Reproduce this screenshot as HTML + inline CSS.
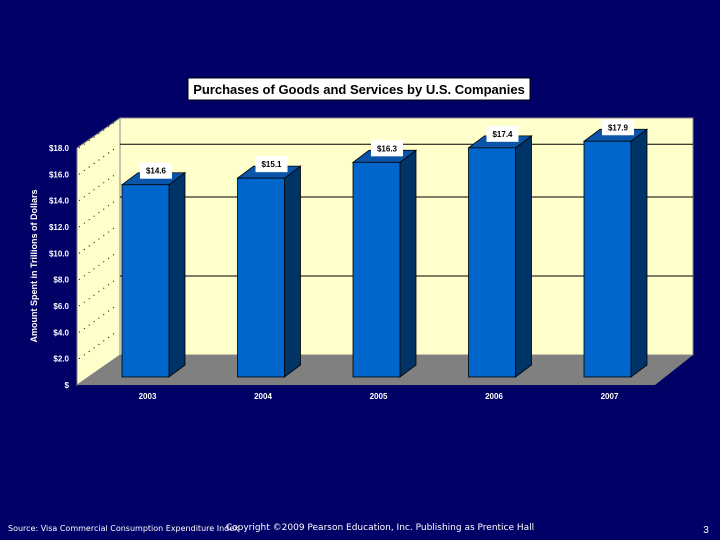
<!DOCTYPE html>
<html><head><meta charset="utf-8"><style>
body{margin:0;background:#000066;width:720px;height:540px;overflow:hidden;font-family:"Liberation Sans",sans-serif}
svg{position:absolute;left:0;top:0}
</style></head><body>
<svg width="720" height="540">
<g id="g"></g>
</svg>
<script>
const years=["2003","2004","2005","2006","2007"];
const values=[14.6,15.1,16.3,17.4,17.9];
const valueLabels=["$14.6","$15.1","$16.3","$17.4","$17.9"];
const ticks=[0,2,4,6,8,10,12,14,16,18];
const tickLabels=["$","$2.0","$4.0","$6.0","$8.0","$10.0","$12.0","$14.0","$16.0","$18.0"];
const gridVals=[6,12,16];
const NS="http://www.w3.org/2000/svg";
const g=document.getElementById('g');
function el(t,a,txt){const e=document.createElementNS(NS,t);for(const k in a)e.setAttribute(k,a[k]);if(txt!==undefined)e.textContent=txt;g.appendChild(e);return e;}
const unit=13.17;
const yFront=v=>385-v*unit, yBack=v=>355-v*unit, yBar=v=>377-v*unit;
const xBar=i=>122+i*115.5;
// back wall
let e=el('polygon',{points:"120,118 693,118 693,355 120,355",fill:"#FFFFCC",stroke:"#888","stroke-width":1});

e=el('polygon',{points:"77,148 120,118 120,355 77,385",fill:"#FFFFCC",stroke:"#888","stroke-width":1});

e=el('polygon',{points:"120,355 693,355 655,385 77,385",fill:"#808080"});

gridVals.forEach(v=>{const l=el('line',{x1:120,x2:693,y1:yBack(v),y2:yBack(v),stroke:"#000","stroke-width":1});
});
ticks.forEach((v,i)=>{
 if(v>0){const l=el('line',{x1:79,y1:yFront(v),x2:118,y2:yFront(v)-28,stroke:"#000","stroke-width":1,"stroke-dasharray":"1,5"});
 }
 const t=el('text',{x:69,y:yFront(v)+3,"text-anchor":"end",fill:"#fff","font-size":"8","font-weight":"bold"},tickLabels[i]);
 
});
values.forEach((v,i)=>{
 const x=xBar(i),w=47,top=yBar(v),dx=16,dy=12;
 let p=el('polygon',{points:`${x+w},${top} ${x+w+dx},${top-dy} ${x+w+dx},${377-dy} ${x+w},377`,fill:"#003366",stroke:"#000","stroke-width":0.8});
 
 p=el('polygon',{points:`${x},${top} ${x+dx},${top-dy} ${x+w+dx},${top-dy} ${x+w},${top}`,fill:"#0a55aa",stroke:"#000","stroke-width":0.8});
 
 p=el('rect',{x:x,y:top,width:w,height:377-top,fill:"#0066CC",stroke:"#000","stroke-width":0.8});
 
 const bx=x+18,by=top-22;
 p=el('rect',{x:bx,y:by,width:32,height:16,fill:"#fff"});
 
 p=el('text',{x:bx+16,y:by+11,"text-anchor":"middle","font-size":"8","font-weight":"bold",fill:"#000"},valueLabels[i]);
 
 p=el('text',{x:x+w/2+2,y:399,"text-anchor":"middle","font-size":"8","font-weight":"bold",fill:"#fff"},years[i]);
 
});
e=el('text',{x:0,y:0,transform:"translate(37,266) rotate(-90)","text-anchor":"middle","font-size":"9","font-weight":"bold",fill:"#fff"},"Amount Spent in Trillions of Dollars");

e=el('rect',{x:188,y:78,width:342,height:22,fill:"#fff",stroke:"#000","stroke-width":1});

e=el('text',{x:359,y:94,"text-anchor":"middle","font-size":"13","font-weight":"bold",fill:"#000"},"Purchases of Goods and Services by U.S. Companies");

e=el('text',{x:8,y:531,"font-size":"8",fill:"#fff","font-family":"DejaVu Sans, sans-serif"},"Source: Visa Commercial Consumption Expenditure Index");

e=el('text',{x:380,y:530,"text-anchor":"middle","font-size":"9",fill:"#fff","font-family":"DejaVu Sans, sans-serif"},"Copyright ©2009 Pearson Education, Inc. Publishing as Prentice Hall");

e=el('text',{x:706,y:533,"text-anchor":"middle","font-size":"10",fill:"#fff"},"3");

</script>
</body></html>
